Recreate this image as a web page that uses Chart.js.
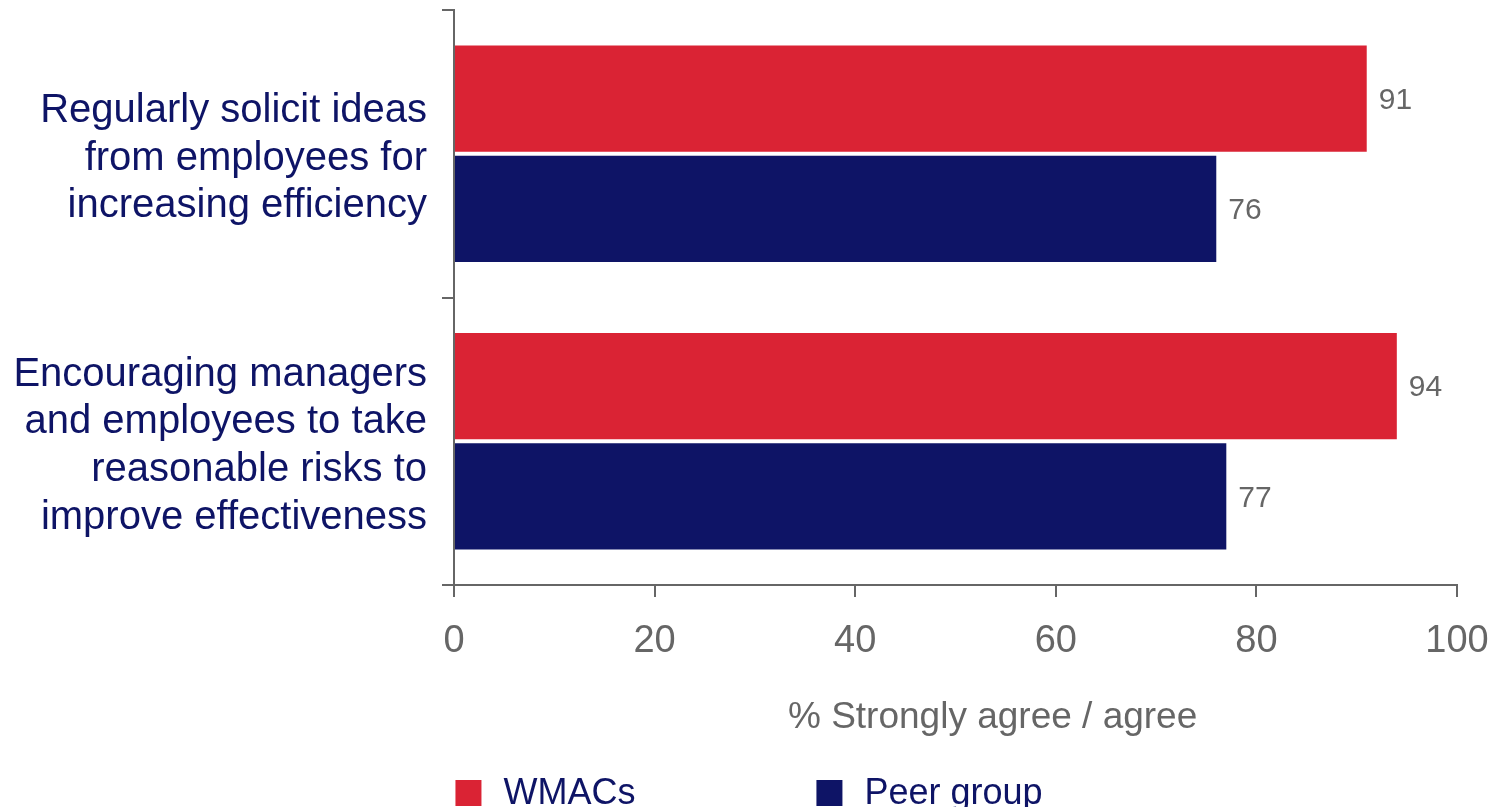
<!DOCTYPE html>
<html>
<head>
<meta charset="utf-8">
<style>
  html, body { margin: 0; padding: 0; background: #ffffff; }
  #wrap { width: 1500px; height: 807px; }
</style>
<script src="https://cdn.jsdelivr.net/npm/chart.js@4.4.1/dist/chart.umd.min.js"></script>
</head>
<body>
<div id="wrap"><canvas id="c" width="1500" height="807"></canvas></div>
<script>
// ---- data ----
const categories = [
  ["Regularly solicit ideas", "from employees for", "increasing efficiency"],
  ["Encouraging managers", "and employees to take", "reasonable risks to", "improve effectiveness"]
];
const seriesNames = ["WMACs", "Peer group"];
const wmacsValues = [91, 94];
const peerValues = [76, 77];
const xTicks = [0, 20, 40, 60, 80, 100];
const axisTitle = "% Strongly agree / agree";

const RED = "#DA2334";
const NAVY = "#0E1466";
const GREY = "#666666";
const FONT = "'Liberation Sans', Arial, Helvetica, sans-serif";

const valueLabels = {
  id: "valueLabels",
  afterDatasetsDraw(chart) {
    const ctx = chart.ctx;
    ctx.save();
    ctx.font = "30px " + FONT;
    ctx.fillStyle = GREY;
    ctx.textAlign = "left";
    ctx.textBaseline = "middle";
    chart.data.datasets.forEach((ds, i) => {
      const meta = chart.getDatasetMeta(i);
      meta.data.forEach((el, j) => {
        ctx.fillText(String(ds.data[j]), el.x + 12, el.y + 2);
      });
    });
    ctx.restore();
  }
};

const axisTitlePlugin = {
  id: "axisTitlePlugin",
  afterDraw(chart) {
    const ctx = chart.ctx;
    const a = chart.chartArea;
    ctx.save();
    ctx.font = "37px " + FONT;
    ctx.fillStyle = GREY;
    ctx.textAlign = "center";
    ctx.textBaseline = "middle";
    ctx.fillText(axisTitle, a.left + (a.right - a.left) * 0.537, 718);
    ctx.restore();
  }
};

const legendPlugin = {
  id: "customLegend",
  afterDraw(chart) {
    const ctx = chart.ctx;
    ctx.save();
    ctx.font = "36px " + FONT;
    ctx.textBaseline = "middle";
    ctx.textAlign = "left";
    const box = 26, boxGap = 22, itemGap = 181;
    const items = chart.data.datasets.map(ds => ({
      text: ds.label, color: ds.backgroundColor,
      w: box + boxGap + ctx.measureText(ds.label).width
    }));
    const total = items.reduce((s, it) => s + it.w, 0) + itemGap * (items.length - 1);
    let x = chart.width / 2 - total / 2 - 1;
    const yc = 793;
    items.forEach(it => {
      ctx.fillStyle = it.color;
      ctx.fillRect(x, yc - box / 2, box, box);
      ctx.fillStyle = NAVY;
      ctx.fillText(it.text, x + box + boxGap, yc + 1);
      x += it.w + itemGap;
    });
    ctx.restore();
  }
};

new Chart(document.getElementById("c"), {
  type: "bar",
  data: {
    labels: categories,
    datasets: [
      { label: seriesNames[0], data: wmacsValues, backgroundColor: RED,
        categoryPercentage: 0.766, barPercentage: 0.964 },
      { label: seriesNames[1], data: peerValues, backgroundColor: NAVY,
        categoryPercentage: 0.766, barPercentage: 0.964 }
    ]
  },
  options: {
    indexAxis: "y",
    responsive: false,
    animation: false,
    layout: { padding: { top: 10, right: 43, bottom: 0, left: 0 } },
    plugins: {
      legend: { display: false },
      tooltip: { enabled: false },
      title: { display: false }
    },
    scales: {
      x: {
        type: "linear",
        min: xTicks[0],
        max: xTicks[xTicks.length - 1],
        afterBuildTicks(scale) { scale.ticks = xTicks.map(v => ({ value: v })); },
        ticks: {
          color: GREY,
          font: { family: FONT, size: 38 },
          padding: 22,
          maxRotation: 0
        },
        grid: {
          drawOnChartArea: false,
          drawTicks: true,
          tickLength: 12,
          color: GREY,
          lineWidth: 2
        },
        border: { display: true, color: GREY, width: 2 },
        afterFit(scale) {
          scale.height = 222;
          scale.paddingLeft = 0;
          scale.paddingRight = 0;
        }
      },
      y: {
        type: "category",
        offset: true,
        ticks: {
          color: NAVY,
          font: { family: FONT, size: 40, lineHeight: 1.19 },
          padding: 15,
          labelOffset: 5,
          crossAlign: "near"
        },
        grid: {
          offset: true,
          drawOnChartArea: false,
          drawTicks: true,
          tickLength: 12,
          color: GREY,
          lineWidth: 2
        },
        border: { display: true, color: GREY, width: 2 },
        afterFit(scale) {
          scale.width = 454;
          scale.paddingTop = 0;
          scale.paddingBottom = 0;
        }
      }
    }
  },
  plugins: [valueLabels, axisTitlePlugin, legendPlugin]
});
</script>
</body>
</html>
